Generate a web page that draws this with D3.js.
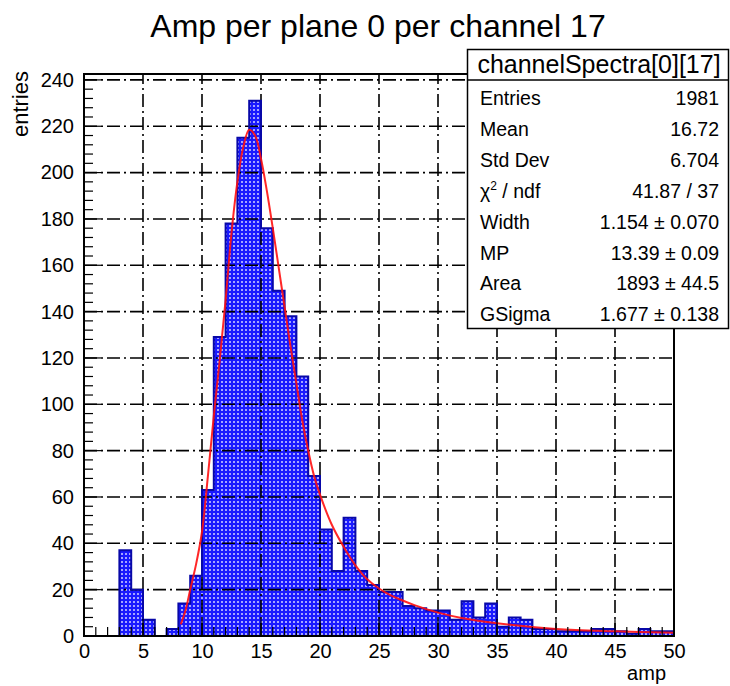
<!DOCTYPE html>
<html>
<head>
<meta charset="utf-8">
<script src="https://cdn.jsdelivr.net/npm/d3@7"></script>
<style>
  html, body { margin: 0; padding: 0; background: #ffffff; }
  svg { display: block; font-family: "Liberation Sans", Arial, Helvetica, sans-serif; }
</style>
</head>
<body>
<svg id="chart" width="730" height="686"></svg>
<script>
// Histogram contents: 50 bins of width 1 covering amp 0..50
const binEdgesLow = d3.range(0, 50);
const binCounts = [
  0, 0, 0, 37, 20, 7, 0, 3, 14, 26,
  63, 129, 178, 215, 231, 176, 149, 138, 112, 69,
  46, 28, 51, 28, 22, 19, 19, 13, 12, 11,
  11, 7, 15, 8, 14, 4, 8, 7, 3, 3,
  2, 2, 2, 3, 3, 2, 1, 3, 2, 2
];

// Fitted Landau (x) Gauss curve, sampled points (amp, entries)
const fitAmp = [8.2, 8.6, 9.0, 9.5, 10.0, 10.5, 11.0, 11.5, 12.0, 12.5, 13.0, 13.5, 14.0, 14.5,
  15.0, 15.5, 16.0, 16.5, 17.0, 17.5, 18.0, 18.5, 19.0, 19.5, 20.0, 21.0, 22.0, 23.0,
  24.0, 25.0, 26.0, 27.0, 28.0, 29.0, 30.0, 32.0, 35.0, 40.0, 45.0, 50.0];
const fitEntries = [5, 11, 20, 31, 45, 69, 95, 119, 145, 174, 196, 211, 218.5, 216,
  206, 192, 176, 159, 142, 125, 109, 93, 80, 69, 61, 48, 38.5, 30.5,
  24.5, 20.5, 17.5, 15.3, 13.3, 11.6, 10.1, 7.8, 5.5, 3.0, 2.0, 1.4];

// Axis ticks
const xMajorTicks = d3.range(0, 51, 5);
const xMinorTicks = d3.range(0, 51, 1);
const yMajorTicks = d3.range(0, 241, 20);
const yMinorTicks = d3.range(0, 241, 4);

// Statistics box text
const statsTitle = "channelSpectra[0][17]";
const statsLabels = ["Entries", "Mean", "Std Dev", "CHI2", "Width", "MP", "Area", "GSigma"];
const statsValues = ["1981", "16.72", "6.704", "41.87 / 37", "1.154 \u00b1 0.070",
  "13.39 \u00b1 0.09", "1893 \u00b1 44.5", "1.677 \u00b1 0.138"];

const svg = d3.select("#chart");

const yMax = 1.05 * d3.max(binCounts);
const x = d3.scaleLinear().domain([0, 50]).range([84, 674]);
const y = d3.scaleLinear().domain([0, yMax]).range([636, 74]);

// Fill pattern: blue with small see-through holes
const defs = svg.append("defs");
const pat = defs.append("pattern")
  .attr("id", "dots")
  .attr("patternUnits", "userSpaceOnUse")
  .attr("width", 4).attr("height", 4);
pat.append("path")
  .attr("d", "M0,0h4v4h-4z M1,1h2v2h-2z")
  .attr("fill", "#1a1aff")
  .attr("fill-rule", "evenodd");
pat.append("rect").attr("x", 1).attr("y", 1).attr("width", 2).attr("height", 2)
  .attr("fill", "#5a5aff").attr("fill-opacity", 0.55);

// Step outline of the histogram
function stepPath() {
  let p = d3.path();
  p.moveTo(x(0), y(0));
  binCounts.forEach((c, i) => {
    p.lineTo(x(binEdgesLow[i]), y(c));
    p.lineTo(x(binEdgesLow[i] + 1), y(c));
  });
  p.lineTo(x(50), y(0));
  return p.toString();
}

// Histogram fill
svg.append("path")
  .attr("d", stepPath() + "Z")
  .attr("fill", "url(#dots)")
  .attr("stroke", "none");

// Grid (dash-dot)
const grid = svg.append("g")
  .attr("stroke", "#000")
  .attr("stroke-width", 1.6)
  .attr("stroke-dasharray", "13,4,2,4")
  .attr("fill", "none");
xMajorTicks.filter(v => v > 0 && v < 50).forEach(v => {
  grid.append("line").attr("x1", x(v)).attr("x2", x(v)).attr("y1", y(0)).attr("y2", y(yMax));
});
yMajorTicks.filter(v => v > 0).forEach(v => {
  grid.append("line").attr("x1", x(0)).attr("x2", x(50)).attr("y1", y(v)).attr("y2", y(v));
});

// Histogram outline
svg.append("path")
  .attr("d", stepPath())
  .attr("fill", "none")
  .attr("stroke", "#0808a8")
  .attr("stroke-width", 2);

// Fit curve
const fitPts = fitAmp.map((a, i) => [a, fitEntries[i]]);
svg.append("path")
  .datum(fitPts)
  .attr("d", d3.line().x(d => x(d[0])).y(d => y(d[1])).curve(d3.curveCatmullRom.alpha(0.5)))
  .attr("fill", "none")
  .attr("stroke", "#ff1010")
  .attr("stroke-width", 2)
  .attr("stroke-opacity", 0.9);

// Frame
svg.append("rect")
  .attr("x", x(0)).attr("y", y(yMax))
  .attr("width", x(50) - x(0)).attr("height", y(0) - y(yMax))
  .attr("fill", "none").attr("stroke", "#000").attr("stroke-width", 2);

// X axis ticks and labels
const xAxis = d3.axisBottom(x).tickValues(xMajorTicks).tickSize(0).tickPadding(0)
  .tickFormat(d3.format("d"));
const gx = svg.append("g").attr("transform", `translate(0,${y(0)})`).call(xAxis);
gx.select(".domain").remove();
gx.selectAll("text").attr("font-size", 20).attr("font-family", "Liberation Sans, Arial, sans-serif")
  .attr("fill", "#000").attr("dy", null).attr("y", 22);
const tickG = svg.append("g").attr("stroke", "#000").attr("stroke-width", 1.2);
xMinorTicks.forEach(v => {
  const len = v % 5 === 0 ? 17 : 9;
  tickG.append("line").attr("x1", x(v)).attr("x2", x(v)).attr("y1", y(0)).attr("y2", y(0) - len);
});

// Y axis ticks and labels
const yAxis = d3.axisLeft(y).tickValues(yMajorTicks).tickSize(0).tickPadding(0)
  .tickFormat(d3.format("d"));
const gy = svg.append("g").attr("transform", `translate(${x(0) - 10},0)`).call(yAxis);
gy.select(".domain").remove();
gy.selectAll("text").attr("font-size", 20).attr("font-family", "Liberation Sans, Arial, sans-serif")
  .attr("fill", "#000").attr("x", 0);
yMinorTicks.forEach(v => {
  const len = v % 20 === 0 ? 17 : 9;
  tickG.append("line").attr("x1", x(0)).attr("x2", x(0) + len).attr("y1", y(v)).attr("y2", y(v));
});

// Axis titles
svg.append("text")
  .attr("x", x(50) - 8).attr("y", 680)
  .attr("text-anchor", "end")
  .attr("font-size", 20)
  .text("amp");
svg.append("text")
  .attr("transform", `translate(28,${y(yMax) - 3}) rotate(-90)`)
  .attr("text-anchor", "end")
  .attr("font-size", 22)
  .text("entries");

// Title
svg.append("text")
  .attr("x", 378).attr("y", 37)
  .attr("text-anchor", "middle")
  .attr("font-size", 32)
  .text("Amp per plane 0 per channel 17");

// Statistics box
const box = svg.append("g");
box.append("rect")
  .attr("x", 467.5).attr("y", 49.5).attr("width", 261).attr("height", 279)
  .attr("fill", "#fff").attr("stroke", "#000").attr("stroke-width", 1.5);
box.append("line")
  .attr("x1", 467.5).attr("x2", 728.5).attr("y1", 80).attr("y2", 80)
  .attr("stroke", "#000").attr("stroke-width", 1.5);
box.append("text")
  .attr("x", 599).attr("y", 73)
  .attr("text-anchor", "middle")
  .attr("font-size", 25)
  .text(statsTitle);
statsLabels.forEach((lab, i) => {
  const by = 105 + i * 30.9;
  const t = box.append("text").attr("x", 480).attr("y", by).attr("font-size", 19.5);
  if (lab === "CHI2") {
    t.append("tspan").text("\u03c7");
    t.append("tspan").attr("font-size", 12).attr("dy", -8).text("2");
    t.append("tspan").attr("dy", 8).text(" / ndf");
  } else {
    t.text(lab);
  }
  box.append("text").attr("x", 719).attr("y", by).attr("text-anchor", "end")
    .attr("font-size", 19.5).text(statsValues[i]);
});
</script>
</body>
</html>
